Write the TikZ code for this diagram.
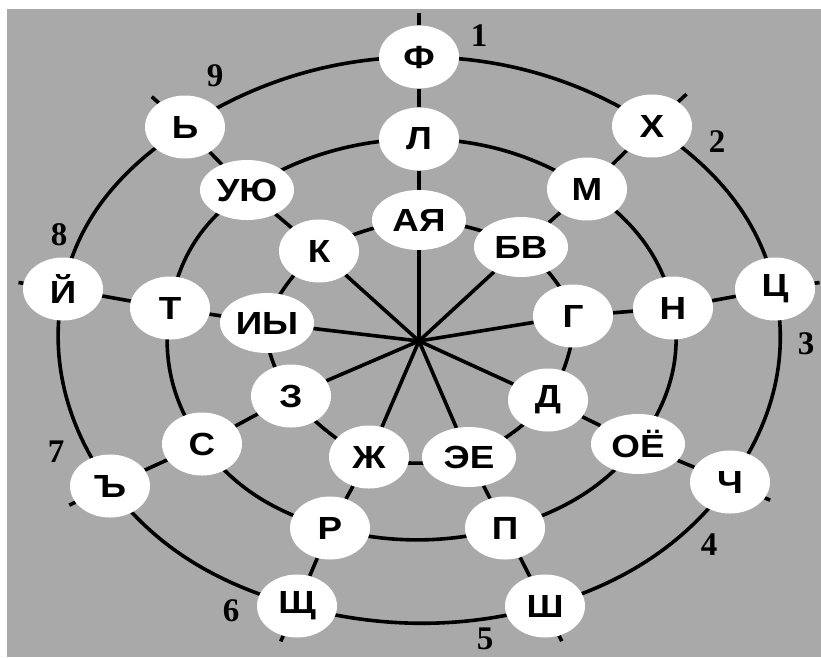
\documentclass[tikz,border=0pt]{standalone}
\usepackage{fontspec}
\newfontfamily\letterfont[FakeStretch=1.15]{Liberation Sans}
\newfontfamily\numfont{Liberation Serif}
\usetikzlibrary{shapes.geometric, calc}
\definecolor{panelgray}{HTML}{A9A9A9}
\pgfdeclarelayer{bottom}
\pgfdeclarelayer{lines}
\pgfsetlayers{bottom,lines,main}

\begin{document}
\begin{tikzpicture}[x=1pt,y=-1pt]
    \tikzstyle{every node}=[font=\letterfont\bfseries\fontsize{32pt}{32pt}\selectfont]
    \tikzstyle{letter} = [ellipse, fill=white, inner sep=0pt, minimum width=80pt, minimum height=63pt]
    \tikzstyle{pair} = [letter, minimum width=94pt, minimum height=60pt]
    \tikzstyle{ring} = [line width=3.6pt]
    \tikzstyle{spoke} = [line width=3.6pt]
    \tikzstyle{number} = [font=\numfont\bfseries\fontsize{33pt}{33pt}\selectfont]

    \useasboundingbox (0,0) rectangle (821,657);
    \begin{pgfonlayer}{bottom}
        \fill[panelgray] (7,9) rectangle (821,657);
    \end{pgfonlayer}

    \coordinate (c) at (419,341);

    % outer ring
    \node[letter](f) at (419,57) {Ф};
    \node[letter](kh) at (652,126) {Х};
    \node[letter](ts) at (775,289) {Ц};
    \node[letter](ch) at (730,482) {Ч};
    \node[letter](sh) at (545,606) {Ш};
    \node[letter](shch) at (297,606) {Щ};
    \node[letter](hard) at (110,486) {Ъ};
    \node[letter](j) at (63,289) {Й};
    \node[letter](soft) at (185,127) {Ь};

    % middle ring
    \node[letter](l) at (419,139) {Л};
    \node[letter](m) at (587,189) {М};
    \node[letter](n) at (673,308) {Н};
    \node[pair](oe) at (638,444) {ОЁ};
    \node[letter](p) at (505,528) {П};
    \node[letter](r) at (330,528) {Р};
    \node[letter](s) at (202,444) {С};
    \node[letter](t) at (170,308) {Т};
    \node[pair](uyu) at (247,190) {УЮ};

    % inner ring
    \node[pair](aya) at (419,220) {АЯ};
    \node[pair](bv) at (521,247) {БВ};
    \node[letter](g) at (573,316) {Г};
    \node[letter](d) at (548,400) {Д};
    \node[pair](ee) at (469,457) {ЭЕ};
    \node[letter](zh) at (369,457) {Ж};
    \node[letter](z) at (291,396) {З};
    \node[pair](iy) at (267,323) {ИЫ};
    \node[letter](k) at (319,251) {К};

    % numbers
    \node[number](n1) at (479,36) {1};
    \node[number](n2) at (717,142) {2};
    \node[number](n3) at (806,344) {3};
    \node[number](n4) at (709,545) {4};
    \node[number](n5) at (485,639) {5};
    \node[number](n6) at (231,611) {6};
    \node[number](n7) at (56,452) {7};
    \node[number](n8) at (59,235) {8};
    \node[number](n9) at (215,76) {9};

    \begin{pgfonlayer}{lines}
        \draw[ring] plot[smooth cycle, tension=0.68] coordinates {(f) (kh) (ts) (ch) (sh) (shch) (hard) (j) (soft)};
        \draw[ring] plot[smooth cycle, tension=0.68] coordinates {(l) (m) (n) (oe) (p) (r) (s) (t) (uyu)};
        \draw[ring] plot[smooth cycle] coordinates {(aya) (bv) (g) (d) (ee) (zh) (z) (iy) (k)};

        \foreach \a/\b/\o/\len in {aya/l/f/44, bv/m/kh/47, g/n/ts/45, d/oe/ch/44, ee/p/sh/39,
                                   zh/r/shch/39, z/s/hard/45, iy/t/j/45, k/uyu/soft/45} {
            \draw[spoke] (c) -- (\a);
            \draw[spoke] (\a) -- (\b) -- (\o);
            \draw[spoke] (\o) -- ($(\o)!-\len pt!(c)$);
        }
    \end{pgfonlayer}
\end{tikzpicture}
\end{document}
